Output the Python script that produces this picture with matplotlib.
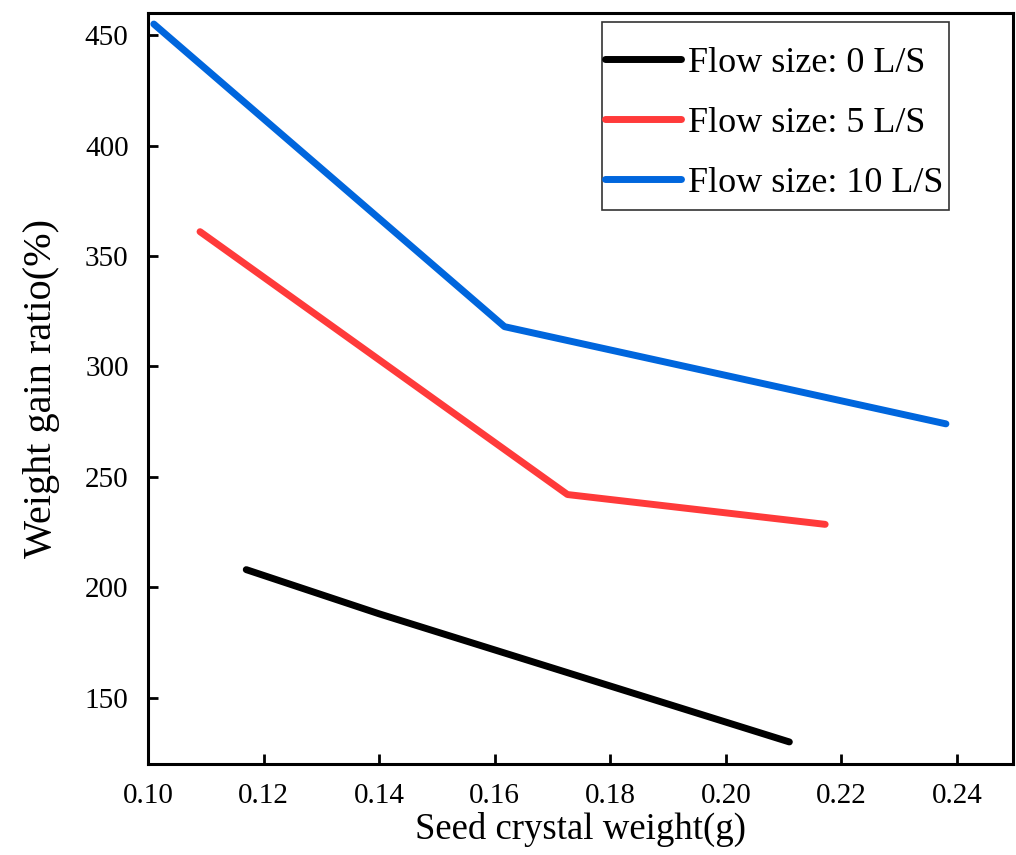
import matplotlib
matplotlib.use('Agg')
import matplotlib.pyplot as plt
from matplotlib.patches import Rectangle

plt.rcParams['font.family'] = ['Liberation Serif', 'DejaVu Serif']

# seed crystal weight (g) and weight gain ratio (%) for each flow size
x_0 = [0.117, 0.140, 0.211]
y_0 = [208, 188, 130]
x_5 = [0.109, 0.1726, 0.2172]
y_5 = [361, 242, 228.5]
x_10 = [0.101, 0.1617, 0.2381]
y_10 = [455, 318, 274]
labels = ['Flow size: 0 L/S', 'Flow size: 5 L/S', 'Flow size: 10 L/S']
xticks = [0.10, 0.12, 0.14, 0.16, 0.18, 0.20, 0.22, 0.24]
yticks = [150, 200, 250, 300, 350, 400, 450]

fig = plt.figure(figsize=(10.16, 8.55), dpi=100)
ax = fig.add_axes([0.1457, 0.1064, 0.8513, 0.8784])

ax.plot(x_0, y_0, color='black', lw=5, label=labels[0], solid_capstyle='round')
ax.plot(x_5, y_5, color='#ff3a3a', lw=5, label=labels[1], solid_capstyle='round')
ax.plot(x_10, y_10, color='#0066dd', lw=5, label=labels[2], solid_capstyle='round')

ax.set_xlim(0.10, 0.2497)
ax.set_ylim(120, 460)
ax.set_xticks(xticks)
ax.set_xticklabels(['%.2f' % v for v in xticks])
ax.set_yticks(yticks)
ax.tick_params(direction='in', length=7, width=2, labelsize=21, pad=14)
for s in ax.spines.values():
    s.set_linewidth(2.2)

ax.set_xlabel('Seed crystal weight(g)', fontsize=26.5, labelpad=2)
ax.set_ylabel('Weight gain ratio(%)', fontsize=29, labelpad=18)

# legend without its own frame, the box is drawn separately (tight on the sides)
leg = ax.legend(loc='upper left', bbox_to_anchor=(0.528, 0.955), fontsize=26,
                frameon=False, handlelength=2.1, handletextpad=0.22,
                borderpad=0, labelspacing=0.74, borderaxespad=0)
ax.add_patch(Rectangle((0.525, 0.7377), 0.401, 0.2503, transform=ax.transAxes,
                       fill=False, edgecolor='#333333', lw=1.2, zorder=5))

fig.savefig('out.png', dpi=100)
